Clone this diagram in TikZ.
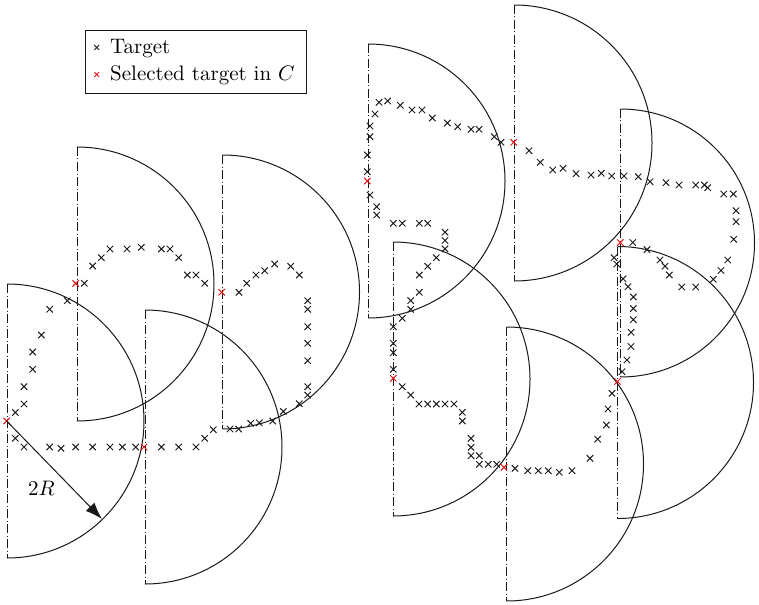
\documentclass[tikz,border=0pt]{standalone}
\usepackage{graphicx}
\usetikzlibrary{arrows.meta}
\definecolor{tgtgray}{RGB}{30,30,30}
\definecolor{selred}{RGB}{232,20,20}
\definecolor{rimgray}{RGB}{25,25,25}
\tikzset{
  dd/.style={line width=0.9pt, draw=rimgray, dash pattern=on 9pt off 2.5pt on 1pt off 2.5pt},
  rim/.style={line width=1pt, draw=rimgray},
  tgtmarks/.style={line width=1pt, draw=tgtgray, mark size=4.5pt},
  selmarks/.style={line width=1pt, draw=selred, mark size=4.5pt},
  legtgt/.style={line width=0.9pt, draw=tgtgray, mark size=3.5pt},
  legsel/.style={line width=0.9pt, draw=selred, mark size=3.5pt},
  lbl/.style={inner sep=0pt, text=black},
  radarrow/.style={line width=1pt, draw=rimgray, -{Latex[length=17pt,width=12pt]}}
}
\newcommand\halfdisk[3]{%
  \draw[dd] (#1,#2-#3) -- (#1,#2+#3);
  \draw[rim] (#1,#2-#3) arc[start angle=-90,end angle=90,radius=#3];}
\begin{document}
\begin{tikzpicture}[x=1pt,y=-1pt]
\useasboundingbox (0,0) rectangle (759,604);
% half disks (diameter dash-dotted, arc solid)
\halfdisk{7}{421}{137}
\halfdisk{77}{284}{137}
\halfdisk{145}{447}{137}
\halfdisk{222.5}{292}{137}
\halfdisk{368}{181}{137}
\halfdisk{514}{143}{138}
\halfdisk{393}{379}{137}
\halfdisk{620.5}{243}{134}
\halfdisk{506.5}{464}{137}
\halfdisk{617.5}{382.5}{136}
% targets
\draw[tgtmarks] plot[only marks, mark=x] coordinates {
(67.3,300.7) (49.7,309.3) (41.3,335) (32.7,352) (32.7,369.3) (24,386.7) (24,404) (15.3,412.5)
(15.3,438.3) (24,447) (49.7,447) (61,448.3) (75.7,447) (92.7,447) (110,447) (122.3,447) (135.7,447)
(161.3,447) (178.7,447) (196,447) (204.7,438.3) (213.3,429.7) (230,429) (238.7,429) (250.7,423.3) (259.3,422.8) (272.7,421) (283.3,411.5) (299.3,403.7) (307.7,395) (307.7,386.7) (307.7,360.7) (307.7,343.3) (307.7,326.7) (307.7,309.3) (307.7,300.7) (299.3,275) (290.7,266.3) (274.7,264) (264.7,270.7) (256,275) (246.7,283.3) (239,292.3)
(84.3,283.3) (92.7,266) (101.3,257.7) (110,249) (127,249) (141.3,247.3) (161.3,249) (170,249) (178.7,257.7) (187.3,275) (196,275) (204.7,283.3)
(379,102.3) (387.7,101) (400.3,105.3) (412,110) (422,110) (432.3,118) (447.3,123) (457.7,126.7) (471,129.3) (479,129.3) (494.3,136.7) (501,142.3)
(529,150.7) (540.3,162.3) (552.7,170) (563,168.3) (576,173.7) (591,175) (601.3,173.3) (611.7,176) (624,176) (638.3,176.7) (650,181.7) (666,182.7) (679,185) (695.7,185) (704.3,185) (707.7,187.7) (723.7,194) (733.3,194) (736,210.7) (736,221.7) (733.7,239.3) (727.7,260) (721,270.5) (713.3,279.3) (695.7,287) (681.7,287) (669.3,275) (665,266.2) (660,260) (647,249.6) (632.7,242.5)
(614,257.7) (616.7,264) (623,278.8) (628,286.7) (633.3,297) (633.3,308.5) (633.3,319.7) (631,332.3) (631,346.5) (627,360) (622,371.7)
(612,393.3) (608,409) (606.3,425) (597.7,439.2) (590,458.3) (572,470.7) (559.3,472.3) (548.3,470.7) (538.3,470.7) (527.7,470.7) (515,468.3)
(496.7,464.3) (488.3,464.3) (479.3,464.3) (479.3,455.7) (471,455.7) (471,447.3) (471,438.3) (462.3,421) (462.3,412.3) (454,404) (445,404) (436.3,404) (427.7,404) (419,404) (410.7,395) (402.3,386.7)
(393.3,369.3) (393.3,352.7) (393.3,343.3) (393.3,326.7) (402.3,318.3) (410.7,309.3) (410.7,300.5) (419.3,292.3) (419.3,275) (427.7,266.3) (436.3,257.7) (445,248.8) (445,240.5) (445,232.2) (427.7,223.3) (419.3,223.3) (402.3,223.3) (393.3,223.3) (376.7,215) (376.7,206.7) (370,195)
(367.3,171.7) (367.3,155) (370,136.7) (370,126) (375,114)
};
% selected targets
\draw[selmarks] plot[only marks, mark=x] coordinates {
(6.7,421) (75.7,283.5) (144,447) (221.7,292.3) (367.3,181) (513.7,142.3) (393.3,378.3) (620.3,242.6) (504,467.3) (617.5,381.5)
};
% radius arrow
\coordinate (ctrA) at (6.7,421);
\coordinate (tipA) at (102,519);
\draw[radarrow] (ctrA) -- (tipA);
\node[lbl, anchor=base west] (lblR) at (28,495) {\scalebox{2.1}{$2R$}};
% legend
\node[draw=rimgray, line width=0.9pt, minimum width=221pt, minimum height=63pt, inner sep=0pt, anchor=north west] (legbox) at (85,30) {};
\draw[legtgt] plot[only marks, mark=x] coordinates {(96.7,47.5)};
\draw[legsel] plot[only marks, mark=x] coordinates {(96.7,74.5)};
\node[lbl, anchor=base west] (legT) at (110,53.5) {\scalebox{2.1}{Target}};
\node[lbl, anchor=base west] (legS) at (110,80.5) {\scalebox{2.1}{Selected target in $C$}};
\end{tikzpicture}
\end{document}
